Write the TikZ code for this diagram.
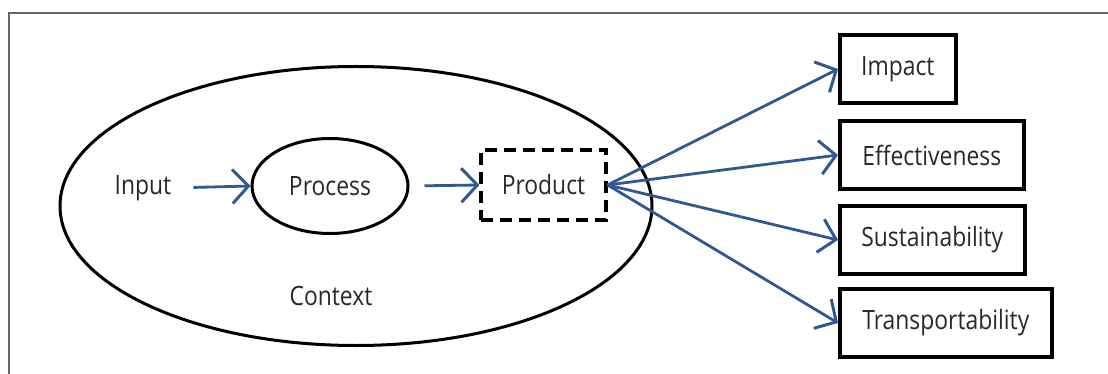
\documentclass[tikz,border=0pt]{standalone}
\usepackage{fontspec}
\setmainfont{Open Sans}[FakeStretch=0.86]
\usetikzlibrary{shapes.geometric,arrows.meta}
\definecolor{arrblue}{RGB}{50,88,145}
\definecolor{txtgray}{RGB}{40,40,40}
\begin{document}
\begin{tikzpicture}[x=1pt,y=-1pt,
  every node/.style={font=\fontsize{26.6}{30}\selectfont, text=txtgray},
  arr/.style={draw=arrblue, line width=2.8pt, -{Straight Barb[length=16pt,width=34pt,line width=3pt]}},
  outbox/.style={draw=black, line width=3.6pt, rectangle, minimum height=68pt, inner sep=0pt, anchor=west}
]
\useasboundingbox (0,0) rectangle (1108,374);
\draw[gray!80!black, line width=1.6pt] (9,374) -- (9,13) -- (1108,13);
% context ellipse
\node[ellipse, draw=black, line width=3pt, minimum width=592pt, minimum height=279pt, inner sep=0pt] (ctx) at (356,206) {};
\node (ctxlabel) at (331,296) {Context};
\node[inner sep=0pt] (input) at (143,188) {Input};
\node[ellipse, draw=black, line width=3pt, minimum width=156pt, minimum height=95pt, inner sep=0pt] (proc) at (330,186) {Process};
\node[draw=black, line width=3.2pt, dash pattern=on 12pt off 7pt, rectangle, minimum width=125pt, minimum height=70pt, inner sep=0pt] (prod) at (543.5,185) {Product};
% output boxes
\node[outbox, minimum width=116pt] (impact) at (838,69) {Impact};
\node[outbox, minimum width=184pt] (eff) at (838,155) {Effectiveness};
\node[outbox, minimum width=185pt] (sus) at (838,240) {Sustainability};
\node[outbox, minimum width=212pt] (trans) at (838,323) {Transportability};
% arrows
\draw[arr, shorten <=22pt] (input.east) -- (proc.west);
\draw[arr, shorten <=15pt] (proc.east) -- (prod.west);
\draw[arr] (prod.east) -- (impact.west);
\draw[arr] (prod.east) -- (eff.west);
\draw[arr] (prod.east) -- (sus.west);
\draw[arr] (prod.east) -- (trans.west);
\end{tikzpicture}
\end{document}
